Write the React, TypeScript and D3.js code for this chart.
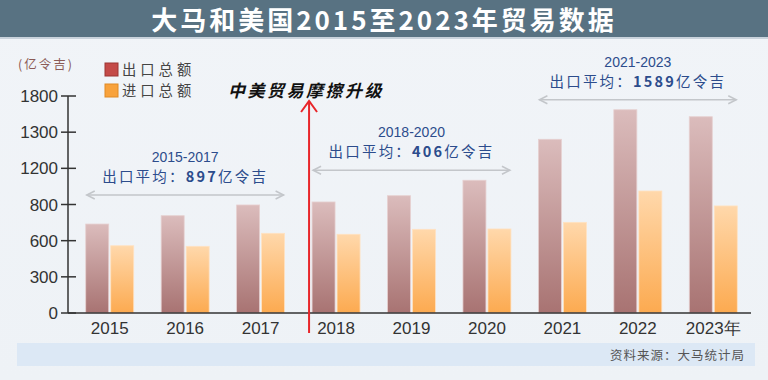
import React from 'react';
import * as d3 from 'd3';

const years = ['2015', '2016', '2017', '2018', '2019', '2020', '2021', '2022', '2023年'];
const exportValues = [738, 807, 896, 921, 973, 1101, 1441, 1686, 1628];
const importValues = [558, 553, 661, 653, 694, 697, 752, 1012, 888];
const yTickValues = [0, 300, 600, 900, 1200, 1500, 1800];
const yTickLabels = ['0', '300', '600', '800', '1200', '1300', '1800'];
const seriesNames = ['出口总额', '进口总额'];
const periodLabels = ['2015-2017', '2018-2020', '2021-2023'];
const periodAverages = ['897', '406', '1589'];
const periodStart = [0, 3, 6];
const periodEnd = [2, 5, 8];
const titleText = '大马和美国2015至2023年贸易数据';
const unitText = '(亿令吉)';
const eventText = '中美贸易摩擦升级';
const sourceText = '资料来源：大马统计局';

const W = 768;
const H = 380;
const CJK = '"Noto Sans CJK SC", "Noto Sans", sans-serif';
const SANS = '"Liberation Sans", Arial, sans-serif';

export default function App() {
  const x = d3.scaleBand<string>().domain(years).range([72, 751]).padding(0);
  const y = d3.scaleLinear().domain([0, 1800]).range([313, 96]);
  const c = (i: number) => (x(years[i]) as number) + x.bandwidth() / 2;
  const barW = 23;
  const eventX = c(3) - 27;

  return (
    <svg width={W} height={H} style={{ position: 'absolute', left: 0, top: 0, display: 'block' }}>
      <defs>
        <linearGradient id="gExp" x1="0" y1="0" x2="0" y2="1">
          <stop offset="0" stopColor="#dbbcbc" />
          <stop offset="1" stopColor="#a87372" />
        </linearGradient>
        <linearGradient id="gImp" x1="0" y1="0" x2="0" y2="1">
          <stop offset="0" stopColor="#ffd8ab" />
          <stop offset="1" stopColor="#fcaa50" />
        </linearGradient>
        <linearGradient id="gBg" x1="0" y1="0" x2="0" y2="1">
          <stop offset="0" stopColor="#f1f4f8" />
          <stop offset="1" stopColor="#eef2f6" />
        </linearGradient>
      </defs>
      <rect x={0} y={0} width={W} height={H} fill="url(#gBg)" />
      {/* title bar */}
      <rect x={0} y={0} width={W} height={37} fill="#587282" />
      <rect x={0} y={37} width={W} height={2} fill="#c9d3dc" />
      <text x={W / 2} y={30} textAnchor="middle" fill="#ffffff" fontFamily={CJK} fontWeight="bold" fontSize={26} letterSpacing={3}>
        {titleText}
      </text>

      {/* unit */}
      <text x={18} y={69} fill="#8b5a55" fontFamily={CJK} fontSize={12.5} letterSpacing={2}>{unitText}</text>

      {/* legend */}
      {seriesNames.map((n, i) => (
        <g key={n} transform={`translate(105, ${63 + i * 21})`}>
          <rect x={0} y={0} width={13} height={13} fill={i === 0 ? '#c44a48' : '#f8a23c'} stroke={i === 0 ? '#9c3432' : '#e08a25'} strokeWidth={1} />
          <text x={17} y={12} fill="#444" fontFamily={CJK} fontSize={14.3} letterSpacing={4}>{n}</text>
        </g>
      ))}

      {/* bars */}
      {years.map((yr, i) => (
        <g key={yr}>
          <rect x={c(i) - barW - 1} y={y(exportValues[i])} width={barW} height={y(0) - y(exportValues[i])} fill="url(#gExp)" stroke="#e6d0d0" strokeWidth={0.8} />
          <rect x={c(i) + 1} y={y(importValues[i])} width={barW} height={y(0) - y(importValues[i])} fill="url(#gImp)" stroke="#ffe2c2" strokeWidth={0.8} />
        </g>
      ))}

      {/* y axis */}
      <line x1={68} x2={68} y1={y(1800)} y2={y(0)} stroke="#333" strokeWidth={1.5} />
      {yTickValues.map((v, i) => (
        <g key={v}>
          <line x1={61} x2={76} y1={y(v)} y2={y(v)} stroke="#333" strokeWidth={1.5} />
          <text x={58} y={y(v) + 6} textAnchor="end" fill="#333" fontFamily={SANS} fontSize={17}>{yTickLabels[i]}</text>
        </g>
      ))}

      {/* x axis */}
      <line x1={68} x2={751} y1={y(0)} y2={y(0)} stroke="#333" strokeWidth={1.5} />
      {years.map((yr, i) => (
        <text key={yr} x={c(i)} y={334} textAnchor="middle" fill="#333" fontFamily={SANS} fontSize={17}>{yr}</text>
      ))}

      {/* period annotations */}
      {periodLabels.map((lab, k) => {
        const s = periodStart[k];
        const e = periodEnd[k];
        const maxV = d3.max(exportValues.slice(s, e + 1)) as number;
        const ay = y(maxV) - 10;
        const x0 = c(s) - 23;
        const x1 = c(e) + 23;
        const cx = c(Math.round((s + e) / 2));
        return (
          <g key={lab}>
            <text x={cx} y={ay - 33} textAnchor="middle" fill="#2c4c8c" fontFamily={SANS} fontSize={14}>{lab}</text>
            <text x={cx} y={ay - 13} textAnchor="middle" fill="#2c4c8c" fontFamily={CJK} fontSize={14.5} letterSpacing={2.2}>
              出口平均：<tspan fontWeight="bold">{periodAverages[k]}</tspan>亿令吉
            </text>
            <line x1={x0} x2={x1} y1={ay} y2={ay} stroke="#c3c6ca" strokeWidth={1.5} />
            <path d={`M${x0 + 8},${ay - 4} L${x0},${ay} L${x0 + 8},${ay + 4}`} fill="none" stroke="#c3c6ca" strokeWidth={1.5} />
            <path d={`M${x1 - 8},${ay - 4} L${x1},${ay} L${x1 - 8},${ay + 4}`} fill="none" stroke="#c3c6ca" strokeWidth={1.5} />
          </g>
        );
      })}

      {/* event arrow */}
      <line x1={eventX} x2={eventX} y1={101} y2={333} stroke="#e8262a" strokeWidth={2} />
      <path d={`M${eventX - 8},${112} L${eventX},${101} L${eventX + 8},${112}`} fill="none" stroke="#e8262a" strokeWidth={2} />
      <text x={eventX - 3} y={97} textAnchor="middle" fill="#111" fontFamily={CJK} fontWeight="bold" fontStyle="italic" fontSize={17} letterSpacing={2.5}>{eventText}</text>

      {/* footer */}
      <rect x={17} y={343} width={738} height={23} fill="#dce8f5" />
      <text x={745} y={360} textAnchor="end" fill="#555" fontFamily={CJK} fontSize={12.5} letterSpacing={1}>{sourceText}</text>
    </svg>
  );
}
